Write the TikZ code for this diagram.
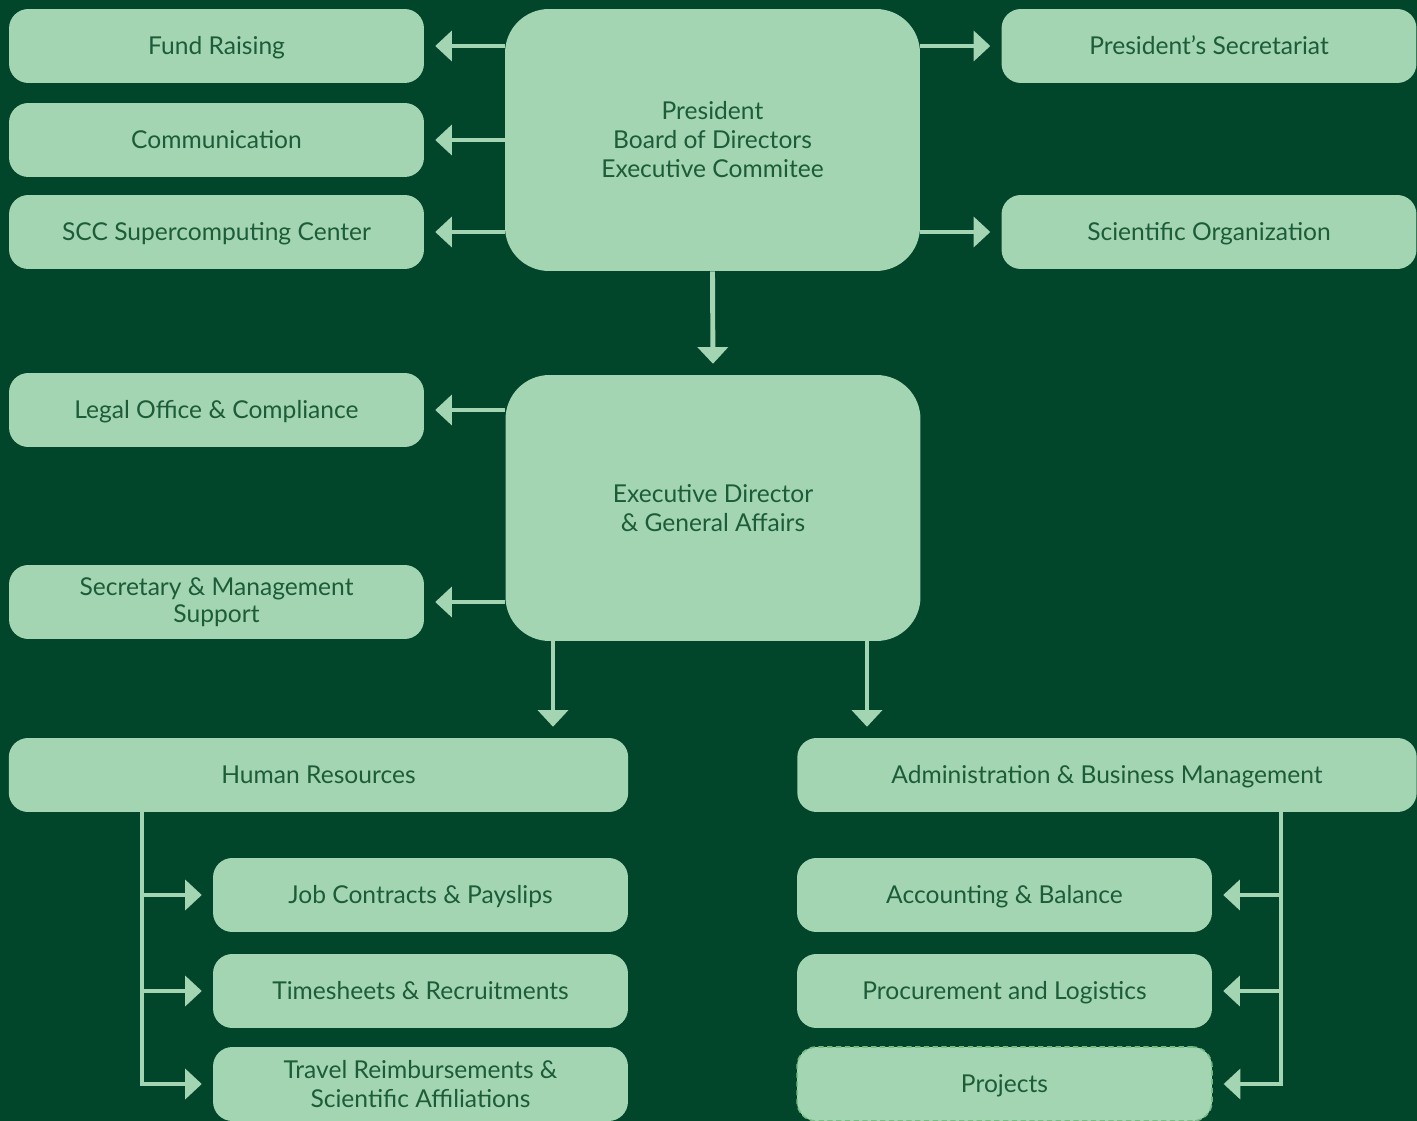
\documentclass[tikz,border=0pt]{standalone}
\usepackage{fontspec}
\setmainfont{Lato}
\usepackage{tikz}
\usetikzlibrary{arrows.meta}
\definecolor{bggreen}{HTML}{01452A}
\definecolor{boxgreen}{HTML}{A3D5B2}
\definecolor{textgreen}{HTML}{1D5C38}
\definecolor{dashgreen}{HTML}{74BE82}

\begin{document}
\begin{tikzpicture}[x=0.02cm, y=-0.02cm,
    every node/.style = {font=\fontsize{14}{16.5}\selectfont, text=textgreen, align=center, inner sep=0pt},
    unitbox/.style = {fill=boxgreen, rounded corners=11pt, minimum width=8.3cm, minimum height=1.48cm},
    oneline/.style = {text height=10.2pt, text depth=0pt},
    widebox/.style = {unitbox, minimum width=12.39cm},
    headbox/.style = {fill=boxgreen, rounded corners=25pt, minimum width=8.3cm, minimum height=5.24cm},
    arr/.style = {draw=boxgreen, line width=2.8pt, -{Triangle[width=17pt,length=9.5pt]}, shorten >=6.2pt}]
    \clip (0, 0) rectangle (1417, 1121);
    \fill[bggreen] (0, 0) rectangle (1417, 1121);

    % top level
    \node[headbox] (pres) at (712.5, 140) {President\\Board of Directors\\Executive Commitee};
    \node[unitbox, oneline] (fund) at (216.5, 46) {Fund Raising};
    \node[unitbox, oneline] (comm) at (216.5, 140) {Communication};
    \node[unitbox, oneline] (scc) at (216.5, 232) {SCC Supercomputing Center};
    \node[unitbox, oneline] (psec) at (1209, 46) {President’s Secretariat};
    \node[unitbox, oneline] (sci) at (1209, 232) {Scientific Organization};

    % executive level
    \node[headbox, minimum height=5.32cm] (ed) at (713, 508) {Executive Director\\\& General Affairs};
    \node[unitbox, oneline] (legal) at (216.5, 410) {Legal Office \& Compliance};
    \node[unitbox, font=\fontsize{14}{15.5}\selectfont] (secr) at (216.5, 602) {Secretary \& Management\\Support};

    % departments
    \node[widebox, oneline] (hr) at (318.5, 775) {Human Resources};
    \node[widebox, oneline] (adm) at (1107, 775) {Administration \& Business Management};
    \node[unitbox, oneline] (job) at (420.5, 895) {Job Contracts \& Payslips};
    \node[unitbox, oneline] (time) at (420.5, 991) {Timesheets \& Recruitments};
    \node[unitbox] (trav) at (420.5, 1084) {Travel Reimbursements \&\\Scientific Affiliations};
    \node[unitbox, oneline] (acc) at (1004.5, 895) {Accounting \& Balance};
    \node[unitbox, oneline] (proc) at (1004.5, 991) {Procurement and Logistics};
    \node[unitbox, oneline, draw=dashgreen, line width=0.9pt, dash pattern=on 3pt off 2pt] (proj) at (1004.5, 1084) {Projects};

    \coordinate (hrdrop) at (553, 0);
    \coordinate (admdrop) at (867, 0);
    \coordinate (hrbus) at (142, 0);
    \coordinate (admbus) at (1281, 0);

    % connectors
    \foreach \n in {fund, comm, scc}
        \draw[arr] (pres.west |- \n.east) -- (\n.east);
    \foreach \n in {psec, sci}
        \draw[arr] (pres.east |- \n.west) -- (\n.west);
    \draw[arr] (pres.south) -- (ed.north);
    \foreach \n in {legal, secr}
        \draw[arr] (ed.west |- \n.east) -- (\n.east);
    \draw[arr] (ed.south -| hrdrop) -- (hr.north -| hrdrop);
    \draw[arr] (ed.south -| admdrop) -- (adm.north -| admdrop);

    \draw[arr] (hr.south -| hrbus) |- (trav.west);
    \foreach \n in {job, time}
        \draw[arr] (hrbus |- \n.west) -- (\n.west);
    \draw[arr] (adm.south -| admbus) |- (proj.east);
    \foreach \n in {acc, proc}
        \draw[arr] (admbus |- \n.east) -- (\n.east);
\end{tikzpicture}
\end{document}
